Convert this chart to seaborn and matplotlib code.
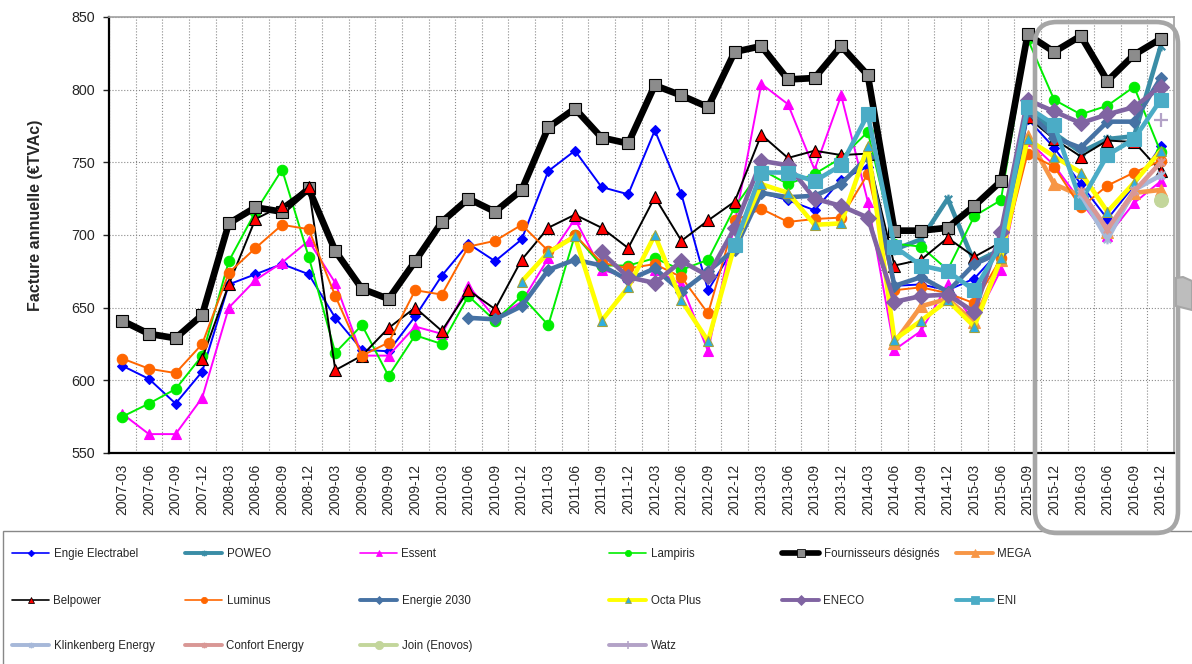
import numpy as np
import matplotlib
matplotlib.use("Agg")
import matplotlib.pyplot as plt
from matplotlib.lines import Line2D
from matplotlib.path import Path
from matplotlib.patches import FancyBboxPatch, Polygon, Rectangle
import seaborn as sns

# quarters on the x axis
quarters = [f"{y}-{m}" for y in range(2007, 2017) for m in ("03", "06", "09", "12")]

# yearly bill per supplier (EUR incl. VAT)
engie = [610, 601, 584, 606, 666, 673, 680, 673, 643, 621, 620, 644, 672, 694, 682, 697,
         744, 758, 733, 728, 772, 728, 662, 692, 729, 724, 717, 738, 747, 665, 666, 662,
         670, 690, 780, 760, 735, 711, 734, 761]
poweo = [690, 697, 725, 681, 690, 790, 770, 757, 766, 768, 830]
essent = [577, 563, 563, 588, 650, 669, 681, 696, 667, 617, 617, 637, 632, 665, 643, 654,
          684, 711, 676, 671, 676, 666, 620, 708, 804, 790, 745, 796, 723, 621, 634, 666,
          640, 676, 765, 748, 723, 699, 722, 737]
lampiris = [575, 584, 594, 617, 682, 716, 745, 685, 619, 638, 603, 631, 625, 658, 641, 658,
            638, 700, 679, 679, 684, 676, 683, 719, 745, 735, 742, 753, 771, 694, 692, 676,
            713, 724, 835, 793, 783, 789, 802, 757]
fournisseurs = [641, 632, 629, 645, 708, 719, 716, 732, 689, 663, 656, 682, 709, 725, 716, 731,
                774, 787, 767, 763, 803, 796, 788, 826, 830, 807, 808, 830, 810, 703, 703, 705,
                720, 737, 838, 826, 837, 806, 824, 835]
mega = [626, 651, 656, 640, 683, 768, 735, 727, 702, 729, 731]
belpower = [615, 666, 711, 720, 733, 607, 617, 636, 650, 634, 662, 649, 683, 705, 714, 705,
            691, 726, 696, 710, 723, 769, 753, 758, 755, 756, 679, 683, 698, 685, 695, 781,
            766, 754, 765, 764, 744]
luminus = [615, 608, 605, 625, 674, 691, 707, 704, 658, 617, 626, 662, 659, 692, 696, 707,
           689, 700, 681, 677, 680, 671, 646, 710, 718, 709, 711, 712, 742, 662, 664, 660,
           653, 684, 756, 747, 719, 734, 743, 751]
energie2030 = [643, 642, 651, 676, 683, 679, 669, 677, 661, 675, 690, 729, 726, 727, 735, 754,
               665, 671, 661, 680, 688, 785, 767, 760, 778, 778, 808]
octa = [668, 688, 699, 641, 664, 700, 655, 627, 693, 735, 729, 707, 708, 761, 628, 641,
        655, 637, 684, 766, 754, 743, 716, 736, 758]
eneco = [688, 671, 667, 682, 672, 705, 751, 748, 725, 720, 712, 654, 658, 659, 647, 702,
         793, 785, 777, 783, 788, 802]
eni = [693, 743, 743, 737, 748, 783, 692, 679, 675, 662, 693, 788, 776, 723, 755, 766, 793]
klinkenberg = [728, 697, 731, 741]
confort = [730, 704, 730, 750]
join = [724]
watz = [779]

# asterisk-like marker (X with a vertical bar)
star = Path([(-1, -1), (1, 1), (-1, 1), (1, -1), (0, -1.3), (0, 1.3)],
            [Path.MOVETO, Path.LINETO] * 3)

# label, values, line colour, width, marker, size, face, edge
series = [
    ("Engie Electrabel", engie, "#0000ff", 1.4, "D", 5.5, "#0000ff", "#0000ff"),
    ("POWEO", poweo, "#3a8da6", 3.3, star, 7, "none", "#3a8da6"),
    ("Essent", essent, "#ff00ff", 1.4, "^", 7, "#ff00ff", "#ff00ff"),
    ("Lampiris", lampiris, "#00ee00", 1.4, "o", 7.5, "#00ee00", "#00ee00"),
    ("Fournisseurs désignés", fournisseurs, "black", 4.8, "s", 8.5, "#8c8c8c", "black"),
    ("MEGA", mega, "#f79646", 3.3, "^", 9, "#f79646", "#f79646"),
    ("Belpower", belpower, "black", 1.4, "^", 8, "#ff0000", "black"),
    ("Luminus", luminus, "#ff6600", 1.4, "o", 7.5, "#ff6600", "#ff6600"),
    ("Energie 2030", energie2030, "#4672a4", 3.3, "D", 6.5, "#4672a4", "#4672a4"),
    ("Octa Plus", octa, "#ffff00", 3.3, "^", 7.5, "#2eaee0", "#a0a040"),
    ("ENECO", eneco, "#8064a2", 3.3, "D", 8, "#8064a2", "#8064a2"),
    ("ENI", eni, "#4bacc6", 3.3, "s", 10, "#4bacc6", "#4bacc6"),
    ("Klinkenberg Energy", klinkenberg, "#a6b8d9", 3.3, star, 7, "none", "#a6b8d9"),
    ("Confort Energy", confort, "#d99795", 3.3, star, 7, "none", "#d99795"),
    ("Join (Enovos)", join, "#c3d69b", 3.3, "o", 10, "#c3d69b", "#c3d69b"),
    ("Watz", watz, "#b3a2c7", 3.3, "+", 10, "none", "#b3a2c7"),
]

sns.set_style("white")
plt.rcParams["font.family"] = ["Liberation Sans", "DejaVu Sans"]

fig = plt.figure(figsize=(11.92, 6.64), dpi=100)
ax = fig.add_axes([109 / 1192, 211 / 664, 1065 / 1192, 436 / 664])

n = len(quarters)
handles = []
for label, vals, col, lw, mk, ms, face, edge in series:
    x = np.arange(n - len(vals), n)
    mew = 1.6 if face == "none" else 0.8
    sns.lineplot(x=x, y=vals, ax=ax, color=col, lw=lw, marker=mk, markersize=ms,
                 markerfacecolor=face, markeredgecolor=edge, markeredgewidth=mew,
                 estimator=None, sort=False, legend=False)
    handles.append(Line2D([], [], color=col, lw=lw * 0.85, marker=mk, markersize=ms * 0.6,
                          markerfacecolor=face, markeredgecolor=edge, markeredgewidth=mew * 0.7))

ax.set_xlim(-0.5, n - 0.5)
ax.set_ylim(550, 850)
ax.set_yticks(range(550, 851, 50))
ax.set_xticks(np.arange(n))
ax.set_xticklabels(quarters, rotation=90)
ax.set_xticks(np.arange(-0.5, n, 1), minor=True)
ax.tick_params(axis="x", which="major", length=0, pad=8, labelsize=10)
ax.tick_params(axis="x", which="minor", length=4, width=1, direction="out", color="black")
ax.tick_params(axis="y", length=4, width=1, direction="out", pad=6, labelsize=10.3, left=True)
ax.grid(which="minor", axis="x", ls=":", color="#8a8a8a", lw=0.8)
ax.grid(which="major", axis="y", ls=":", color="#8a8a8a", lw=0.8)
ax.grid(which="major", axis="x", visible=False)

for side in ("left", "bottom"):
    ax.spines[side].set_color("black")
    ax.spines[side].set_linewidth(1.6)
for side in ("top", "right"):
    ax.spines[side].set_color("#a0a0a0")
    ax.spines[side].set_linewidth(1.2)

ax.set_ylabel("Facture annuelle (€TVAc)", fontsize=11.5, fontweight="bold")
ax.yaxis.set_label_coords(-0.062, 0.545)

# legend laid out row by row like the original
col_x = [12, 185, 360, 609, 782, 956]
row_y = [554, 601, 646]
for k, (h, s) in enumerate(zip(handles, series)):
    fig.legend(handles=[h], labels=[s[0]], loc="center left",
               bbox_to_anchor=(col_x[k % 6] / 1192, 1 - row_y[k // 6] / 664),
               bbox_transform=fig.transFigure, frameon=False, borderpad=0,
               borderaxespad=0, handlelength=3.25, handletextpad=0.35, fontsize=8.3)

fig.add_artist(Rectangle((3 / 1192, -0.02), 1.0, (664 - 531) / 664 + 0.02,
                         transform=fig.transFigure, fill=False, edgecolor="#888888", lw=1))

# highlight box around the last quarters
fig.add_artist(FancyBboxPatch((10.35, 1.31), 1.43, 5.11,
                              boxstyle="round,pad=0,rounding_size=0.22",
                              transform=fig.dpi_scale_trans, fill=False,
                              edgecolor="#a6a6a6", lw=3.3, zorder=10))
fig.add_artist(Polygon([(11.76, 3.86), (11.83, 3.87), (11.92, 3.83), (11.92, 3.54), (11.76, 3.58)],
                       closed=True, transform=fig.dpi_scale_trans, facecolor="#bdbdbd",
                       edgecolor="#a6a6a6", lw=1.5, zorder=10))

fig.savefig("out.png", dpi=100)
